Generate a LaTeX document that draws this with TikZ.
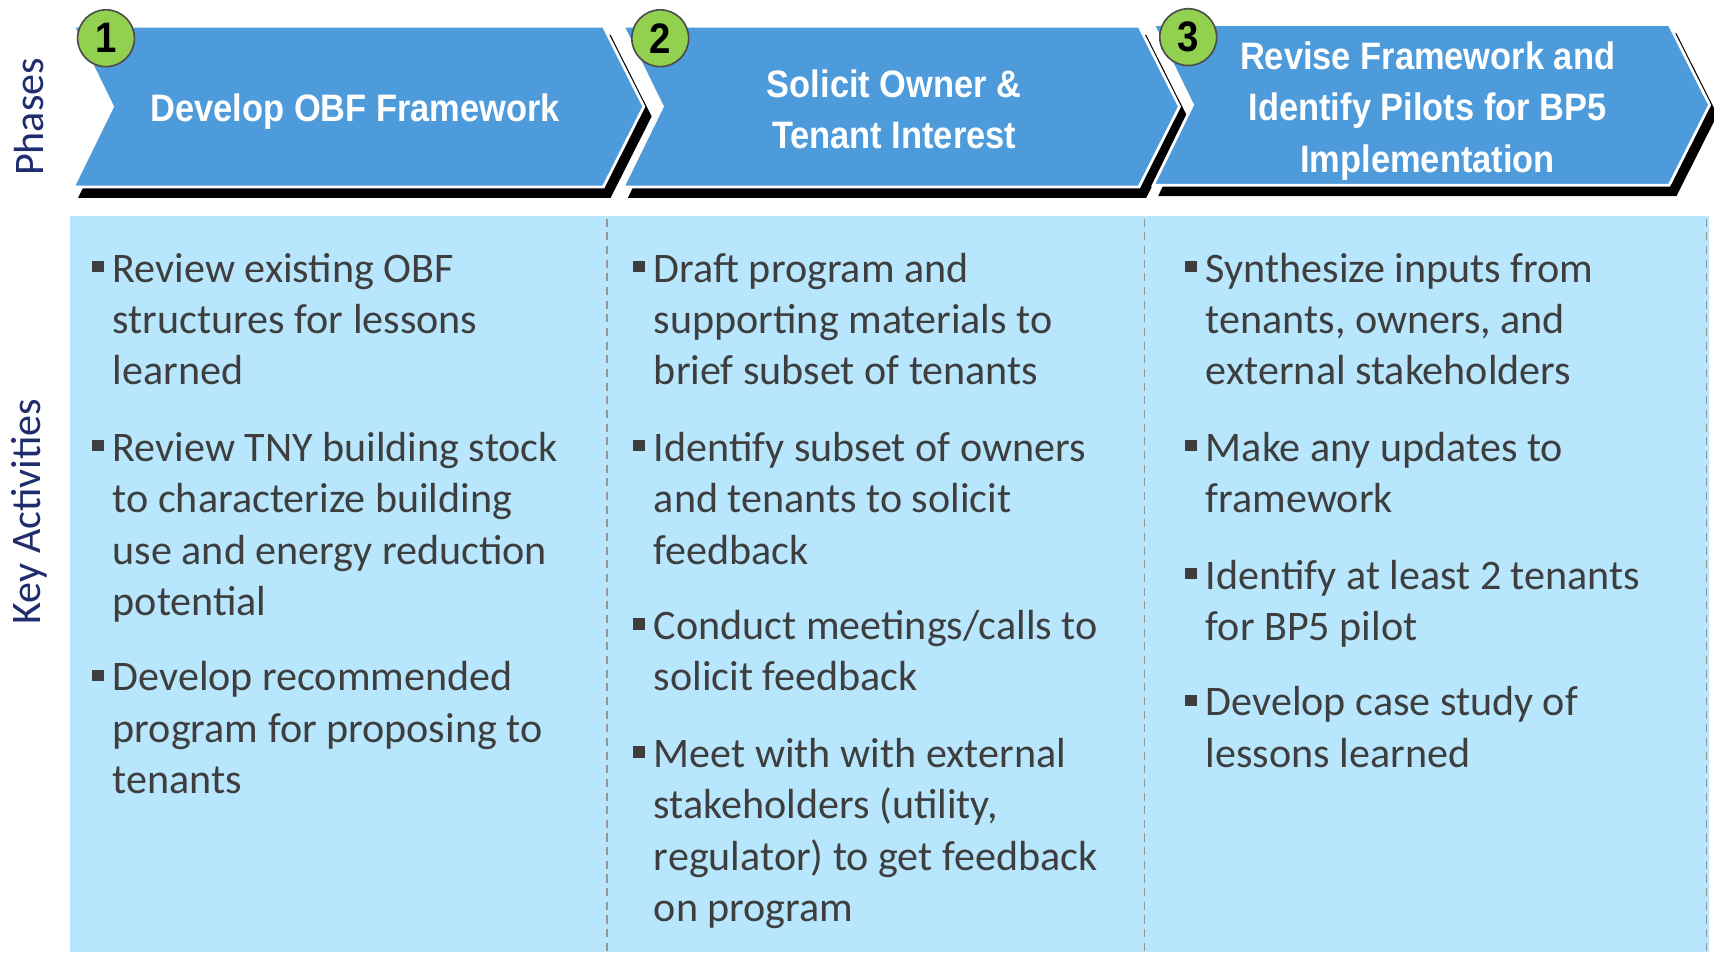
\documentclass[tikz,border=0pt]{standalone}
\usepackage{fontspec}
\setmainfont{Carlito}
\newfontfamily\headfont[FakeStretch=0.9]{Liberation Sans}
\definecolor{chevfill}{RGB}{78,155,219}
\definecolor{panelfill}{RGB}{183,230,253}
\definecolor{badgefill}{RGB}{146,208,80}
\definecolor{labelcol}{RGB}{31,45,110}
\definecolor{bodycol}{RGB}{62,62,62}
\definecolor{dashcol}{RGB}{150,150,150}
\newcommand{\itembullet}{\llap{\rule[9bp]{10.5bp}{10.5bp}\hspace{8.5bp}}}
\begin{document}
\begin{tikzpicture}[line join=miter,
  sidelabel/.style={rotate=90,text=labelcol,inner sep=0pt,font=\fontsize{38.5bp}{47bp}\selectfont},
  phasetitle/.style={align=center,text=white,inner sep=0pt,font=\headfont\bfseries\fontsize{35bp}{47bp}\selectfont},
  badge/.style={circle,fill=badgefill,draw=black!70,line width=1.5bp,minimum size=52bp,inner sep=0pt,font=\headfont\bfseries\fontsize{39bp}{39bp}\selectfont},
  activity/.style={anchor=base west,align=left,text=bodycol,inner sep=0pt,font=\fontsize{38.5bp}{47bp}\selectfont},
  chevshadow/.style={fill=black,draw=black,line width=2bp},
  chevbody/.style={fill=chevfill,draw=white,line width=2.5bp},
  divider/.style={dashcol,line width=1.5bp,dash pattern=on 7.5bp off 5bp},
]
  \useasboundingbox (0bp,0bp) rectangle (1568bp,871bp);
%%
  % Panel: activities
  \fill [panelfill] (64bp,0bp) rectangle (1563bp,673bp);
  \draw [divider] (555bp,671bp) -- (555bp,0bp);
  \draw [divider] (1047bp,671bp) -- (1047bp,0bp);
  \draw [divider] (1561bp,671bp) -- (1561bp,0bp);
  % Side labels
  \node [sidelabel] (phases) at (27bp,764bp) {Phases};
  \node [sidelabel] (keyact) at (27bp,403bp) {Key Activities};
  % Node: Phase1
\begin{scope}
  \draw [chevshadow,shift={(6bp,-9bp)}] (67bp,847bp) -- (552bp,847bp) -- (589bp,773.5bp) -- (552bp,700bp) -- (67bp,700bp) -- (103bp,773.5bp) -- cycle;
  \draw [chevbody] (67bp,847bp) -- (552bp,847bp) -- (589bp,773.5bp) -- (552bp,700bp) -- (67bp,700bp) -- (103bp,773.5bp) -- cycle;
  \node [phasetitle] (title1) at (325bp,768.5bp) {Develop OBF Framework};
  \node [badge] (num1) at (97bp,836bp) {1};
\end{scope}
  % Node: Phase2
\begin{scope}
  \draw [chevshadow,shift={(6bp,-9bp)}] (570bp,847bp) -- (1042bp,847bp) -- (1079bp,773.5bp) -- (1042bp,700bp) -- (570bp,700bp) -- (606bp,773.5bp) -- cycle;
  \draw [chevbody] (570bp,847bp) -- (1042bp,847bp) -- (1079bp,773.5bp) -- (1042bp,700bp) -- (570bp,700bp) -- (606bp,773.5bp) -- cycle;
  \node [phasetitle] (title2) at (818bp,771bp) {Solicit Owner \&\\Tenant Interest};
  \node [badge] (num2) at (604bp,836bp) {2};
\end{scope}
  % Node: Phase3
\begin{scope}
  \draw [chevshadow,shift={(6bp,-9bp)}] (1055bp,848.5bp) -- (1527bp,848.5bp) -- (1564bp,775bp) -- (1527bp,701.5bp) -- (1055bp,701.5bp) -- (1091bp,775bp) -- cycle;
  \draw [chevbody] (1055bp,848.5bp) -- (1527bp,848.5bp) -- (1564bp,775bp) -- (1527bp,701.5bp) -- (1055bp,701.5bp) -- (1091bp,775bp) -- cycle;
  \node [phasetitle] (title3) at (1306bp,769.5bp) {Revise Framework and\\Identify Pilots for BP5\\Implementation};
  \node [badge] (num3) at (1087bp,837bp) {3};
\end{scope}
  % Activities: Phase1 (base = last line)
  \node [activity] (act1a) at (103bp,519bp) {\itembullet Review existing OBF\\structures for lessons\\learned};
  \node [activity] (act1b) at (103bp,308bp) {\itembullet Review TNY building stock\\to characterize building\\use and energy reduction\\potential};
  \node [activity] (act1c) at (103bp,145bp) {\itembullet Develop recommended\\program for proposing to\\tenants};
  % Activities: Phase2
  \node [activity] (act2a) at (598bp,519bp) {\itembullet Draft program and\\supporting materials to\\brief subset of tenants};
  \node [activity] (act2b) at (598bp,355bp) {\itembullet Identify subset of owners\\and tenants to solicit\\feedback};
  \node [activity] (act2c) at (598bp,239bp) {\itembullet Conduct meetings/calls to\\solicit feedback};
  \node [activity] (act2d) at (598bp,28bp) {\itembullet Meet with with external\\stakeholders (utility,\\regulator) to get feedback\\on program};
  % Activities: Phase3
  \node [activity] (act3a) at (1103bp,519bp) {\itembullet Synthesize inputs from\\tenants, owners, and\\external stakeholders};
  \node [activity] (act3b) at (1103bp,402bp) {\itembullet Make any updates to\\framework};
  \node [activity] (act3c) at (1103bp,285bp) {\itembullet Identify at least 2 tenants\\for BP5 pilot};
  \node [activity] (act3d) at (1103bp,169bp) {\itembullet Develop case study of\\lessons learned};
%
\end{tikzpicture}
\end{document}
